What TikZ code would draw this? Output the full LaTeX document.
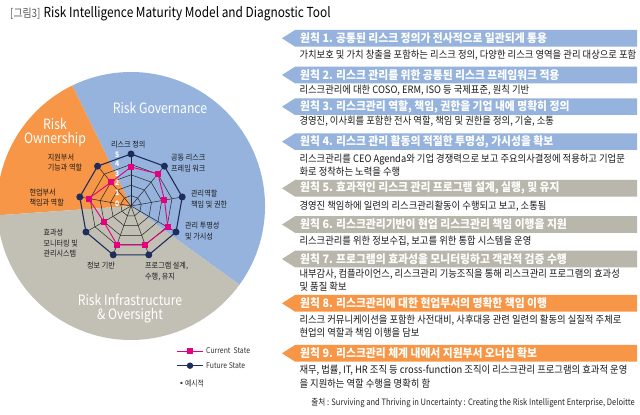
\documentclass[tikz,border=0pt]{standalone}
\usepackage{fontspec}
\setmainfont{Noto Sans CJK KR}
\newfontfamily\kr{Noto Sans CJK KR}[FakeStretch=0.9]
\newfontfamily\krd{Noto Sans CJK KR}[FakeStretch=0.915]
\newfontfamily\krb{Noto Sans CJK KR}[FakeStretch=0.93]
\newfontfamily\krn{Noto Sans CJK KR}[FakeStretch=0.86]
\newfontfamily\krt{Noto Sans CJK KR}[FakeStretch=0.86]
\newfontfamily\krs{Noto Sans CJK KR}[FakeStretch=0.86]
\definecolor{pieblue}{HTML}{95B3DD}
\definecolor{pieorange}{HTML}{F79646}
\definecolor{piegray}{HTML}{C2C0B5}
\definecolor{bangray}{HTML}{B9B7AC}
\definecolor{navy}{HTML}{1F2D5C}
\definecolor{pinkc}{HTML}{E5007F}
\definecolor{txt}{HTML}{1A1A1A}
\tikzset{
  gridline/.style={draw=black!85, line width=0.5pt},
  futline/.style={draw=navy, line width=1.1pt},
  curline/.style={draw=pinkc, line width=0.9pt},
  fdot/.style={circle, fill=navy, inner sep=0pt, minimum size=7pt},
  csq/.style={rectangle, fill=pinkc, inner sep=0pt, minimum size=6pt},
  axlabel/.style={font=\kr\fontsize{7.9}{10.4}\selectfont, text=txt, inner sep=0pt, align=left},
  seclabel/.style={font=\krn\fontsize{14.2}{14.5}\selectfont, text=white, inner sep=0pt, align=center},
  numlabel/.style={font=\kr\bfseries\fontsize{7.5}{8}\selectfont, text=white, inner sep=0pt},
  legtext/.style={font=\krn\fontsize{8}{8}\selectfont, text=black!80, inner sep=0pt, anchor=west},
  bantext/.style={font=\krb\bfseries\fontsize{11.6}{12}\selectfont, text=white, inner sep=0pt, anchor=west},
  desctext/.style={font=\krd\fontsize{10.2}{12}\selectfont, text=txt, inner sep=0pt, anchor=west},
}
\newcommand{\principle}[4]{%
  \fill[#2] (282,#1) -- (295,#1+8.3) -- (637,#1+8.3) -- (637,#1-8.3) -- (295,#1-8.3) -- cycle;
  \node[bantext] (#3) at (300,#1) {#4};
}
\begin{document}
\begin{tikzpicture}[x=1pt,y=1pt]
\useasboundingbox (0,0) rectangle (640,415);
\fill[white] (0,0) rectangle (640,415);
% title
\node[font=\krt\fontsize{11.5}{12}\selectfont, text=black!65, anchor=base west, inner sep=0pt] (tt1) at (10,397.5) {[그림3]};
\node[font=\krt\fontsize{13.8}{14}\selectfont, text=black, anchor=base west, inner sep=0pt] (tt2) at (43.3,397.5) {Risk Intelligence Maturity Model and Diagnostic Tool};
% pie
\coordinate (C) at (131,209);
\fill[pieblue] (C) -- ++(-36:134) arc[start angle=-36, end angle=116, radius=134] -- cycle;
\fill[pieorange] (C) -- ++(116:134) arc[start angle=116, end angle=184, radius=134] -- cycle;
\fill[piegray] (C) -- ++(184:134) arc[start angle=184, end angle=324, radius=134] -- cycle;
\node[seclabel] (sg) at (160,307) {Risk Governance};
\node[seclabel] (so) at (55,283) {Risk\\[-0.5pt]Ownership};
\node[seclabel] (si) at (130,106) {Risk Infrastructure\\[-0.5pt]\& Oversight};
% radar
\begin{scope}[shift={(C)}]
  \foreach \r in {10.4,20.8,31.2,41.6}
    \draw[gridline] (90:\r) foreach \a in {50,10,-30,-70,-110,-150,170,130} { -- (\a:\r) } -- cycle;
  \foreach \a in {90,50,10,-30,-70,-110,-150,170,130}
    \draw[gridline] (0,0) -- (\a:52);
  \foreach \a [count=\i] in {90,50,10,-30,-70,-110,-150,170,130}
    \coordinate (fp\i) at (\a:52);
  \foreach \a/\r [count=\i] in {90/39,50/42,10/34,-30/42.5,-70/41,-110/41,-150/31.5,170/43,130/31}
    \coordinate (cp\i) at (\a:\r);
\end{scope}
\draw[futline] (fp1) -- (fp2) -- (fp3) -- (fp4) -- (fp5) -- (fp6) -- (fp7) -- (fp8) -- (fp9) -- cycle;
\draw[curline] (cp1) -- (cp2) -- (cp3) -- (cp4) -- (cp5) -- (cp6) -- (cp7) -- (cp8) -- (cp9) -- cycle;
\foreach \i in {1,...,9} {
  \node[fdot] (f\i) at (fp\i) {};
  \node[csq] (c\i) at (cp\i) {};
}
% level numbers
\foreach \n/\y in {5/260,4/251.7,3/241.7,2/232.3,1/222.3,0/211}
  \node[numlabel] (n\n) at (117.3,\y) {\n};
% axis labels
\node[axlabel, align=center] (a1) at (128.3,270) {리스크 정의};
\node[axlabel, align=left, anchor=west] (a2) at (171,252) {공동 리스크\\프레임 워크};
\node[axlabel, anchor=west] (a3) at (191,216) {관리역할\\책임 및 권한};
\node[axlabel, anchor=west] (a4) at (185,184) {관리 투명성\\및 가시성};
\node[axlabel, anchor=west] (a5) at (145,143.5) {프로그램 설계,\\수행, 유지};
\node[axlabel] (a6) at (101,149) {정보 기반};
\node[axlabel, anchor=west] (a7) at (43.3,171.8) {효과성\\모니터링 및\\관리시스템};
\node[axlabel, anchor=west] (a8) at (29.3,217.5) {현업부서\\책임과 역할};
\node[axlabel, anchor=west] (a9) at (47.7,252.2) {지원부서\\기능과 역할};
% legend
\coordinate (l1a) at (177,64); \coordinate (l1b) at (203,64);
\coordinate (l2a) at (177,49.3); \coordinate (l2b) at (203,49.3);
\draw[curline] (l1a) -- (l1b);
\node[csq] (lsq) at (190,64) {};
\node[legtext] (lt1) at (206,64) {Current\ \ State};
\draw[futline] (l2a) -- (l2b);
\node[fdot, minimum size=6.5pt] (ldot) at (190,49.3) {};
\node[legtext] (lt2) at (206,49.3) {Future State};
\node[legtext] (lt3) at (178,31.7) {▪예시적};
% principles
\principle{376.7}{pieblue}{p1}{원칙 1. 공통된 리스크 정의가 전사적으로 일관되게 통용}
\node[desctext] (d1) at (299.3,360) {가치보호 및 가치 창출을 포함하는 리스크 정의, 다양한 리스크 영역을 관리 대상으로 포함};
\principle{340}{pieblue}{p2}{원칙 2. 리스크 관리를 위한 공통된 리스크 프레임워크 적용}
\node[desctext] (d2) at (299.3,325) {리스크관리에 대한 COSO, ERM, ISO 등 국제표준, 원칙 기반};
\principle{308.3}{pieblue}{p3}{원칙 3. 리스크관리 역할, 책임, 권한을 기업 내에 명확히 정의}
\node[desctext] (d3) at (299.3,293.3) {경영진, 이사회를 포함한 전사 역할, 책임 및 권한을 정의, 기술, 소통};
\principle{273.3}{pieblue}{p4}{원칙 4. 리스크 관리 활동의 적절한 투명성, 가시성을 확보}
\node[desctext] (d4a) at (299.3,255.7) {리스크관리를 CEO Agenda와 기업 경쟁력으로 보고 주요의사결정에 적용하고 기업문};
\node[desctext] (d4b) at (299.3,243.5) {화로 정착하는 노력을 수행};
\principle{226.7}{bangray}{p5}{원칙 5. 효과적인 리스크 관리 프로그램 설계, 실행, 및 유지}
\node[desctext] (d5) at (299.3,209) {경영진 책임하에 일련의 리스크관리활동이 수행되고 보고, 소통됨};
\principle{190.5}{bangray}{p6}{원칙 6. 리스크관리기반이 현업 리스크관리 책임 이행을 지원}
\node[desctext] (d6) at (299.3,173.3) {리스크관리를 위한 정보수집, 보고를 위한 통합 시스템을 운영};
\principle{156}{bangray}{p7}{원칙 7. 프로그램의 효과성을 모니터링하고 객관적 검증 수행}
\node[desctext] (d7a) at (299.3,140.7) {내부감사, 컴플라이언스, 리스크관리 기능조직을 통해 리스크관리 프로그램의 효과성};
\node[desctext] (d7b) at (299.3,128.3) {및 품질 확보};
\principle{111.7}{pieorange}{p8}{원칙 8. 리스크관리에 대한 현업부서의 명확한 책임 이행}
\node[desctext] (d8a) at (299.3,95) {리스크 커뮤니케이션을 포함한 사전대비, 사후대응 관련 일련의 활동의 실질적 주체로};
\node[desctext] (d8b) at (299.3,82) {현업의 역할과 책임 이행을 담보};
\principle{61.7}{pieorange}{p9}{원칙 9. 리스크관리 체계 내에서 지원부서 오너십 확보}
\node[desctext] (d9a) at (299.3,44.3) {재무, 법률, IT, HR 조직 등 cross-function 조직이 리스크관리 프로그램의 효과적 운영};
\node[desctext] (d9b) at (299.3,31.7) {을 지원하는 역할 수행을 명확히 함};
% source
\node[font=\krs\fontsize{8.8}{10}\selectfont, text=black!85, anchor=east, inner sep=0pt] (src) at (635,11.7) {출처 : Surviving and Thriving in Uncertainty : Creating the Risk Intelligent Enterprise, Deloitte};
\end{tikzpicture}
\end{document}
